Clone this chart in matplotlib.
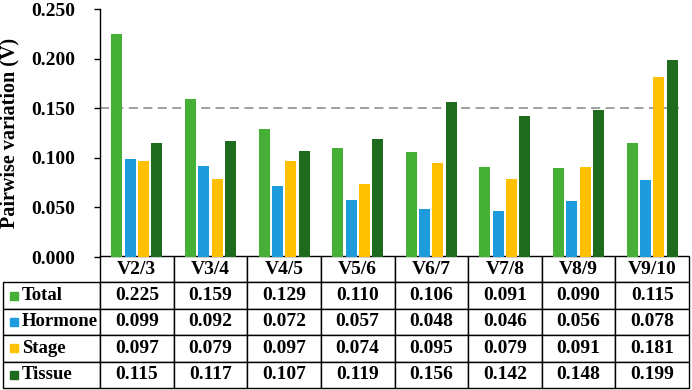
import matplotlib
matplotlib.use("Agg")
import matplotlib.pyplot as plt
import numpy as np

categories = ["V2/3", "V3/4", "V4/5", "V5/6", "V6/7", "V7/8", "V8/9", "V9/10"]
series_names = ["Total", "Hormone", "Stage", "Tissue"]
total = [0.225, 0.159, 0.129, 0.110, 0.106, 0.091, 0.090, 0.115]
hormone = [0.099, 0.092, 0.072, 0.057, 0.048, 0.046, 0.056, 0.078]
stage = [0.097, 0.079, 0.097, 0.074, 0.095, 0.079, 0.091, 0.181]
tissue = [0.115, 0.117, 0.107, 0.119, 0.156, 0.142, 0.148, 0.199]
threshold = 0.150
yticks = [0.000, 0.050, 0.100, 0.150, 0.200, 0.250]

colors = ["#45B035", "#1E9BDD", "#FFC000", "#1E6B1E"]
series = [total, hormone, stage, tissue]

plt.rcParams['font.family'] = ['Liberation Serif', 'DejaVu Serif']
plt.rcParams['font.weight'] = 'bold'

W, H = 692, 390
fig = plt.figure(figsize=(W / 100, H / 100), dpi=100)
ax_l, ax_r, ax_t, ax_b = 100, 689, 9, 257
ax = fig.add_axes([ax_l / W, (H - ax_b) / H, (ax_r - ax_l) / W, (ax_b - ax_t) / H])

x = np.arange(len(categories))
step = 0.181
bw = 0.15
for i, (vals, c) in enumerate(zip(series, colors)):
    ax.bar(x + (i - 1.5) * step, vals, width=bw, color=c, zorder=2)

ax.set_xlim(-0.5, len(categories) - 0.5)
ax.set_ylim(0, 0.25)
ax.hlines(threshold, -0.5, 7.37, colors="#999999", linestyles=(0, (5, 3)), linewidth=1.3, zorder=1)

fs = 14
ax.set_yticks(yticks)
ax.set_yticklabels([f"{v:.3f}" for v in yticks], fontsize=fs, fontweight='bold')
ax.tick_params(axis='y', direction='out', length=4, width=1, pad=14, colors='black')
ax.set_xticks([])
for s in ['top', 'right', 'bottom']:
    ax.spines[s].set_visible(False)
ax.spines['left'].set_linewidth(1)
ax.set_ylabel("Pairwise variation (V)", fontsize=14.5, fontweight='bold', labelpad=8)

# table
ax_w = ax_r - ax_l
ax_h = ax_b - ax_t
tbl_left, tbl_top, tbl_bottom = 3, 256, 388
cell_text = [[""] + categories]
for name, vals in zip(series_names, series):
    cell_text.append([name] + [f"{v:.3f}" for v in vals])
label_w = (ax_l - tbl_left) / (ax_r - tbl_left)
col_w = (1 - label_w) / len(categories)
bbox = [(tbl_left - ax_l) / ax_w, (ax_b - tbl_bottom) / ax_h,
        (ax_r - tbl_left) / ax_w, (tbl_bottom - tbl_top) / ax_h]
tbl = ax.table(cellText=cell_text, colWidths=[label_w] + [col_w] * len(categories),
               cellLoc='center', bbox=bbox)
tbl.auto_set_font_size(False)
for (r, c), cell in tbl.get_celld().items():
    cell.set_linewidth(1)
    cell.get_text().set_fontsize(fs)
    cell.get_text().set_fontweight('bold')
    if r == 0 and c == 0:
        cell.visible_edges = ''
    if c == 0 and r > 0:
        cell._loc = 'left'
        cell.PAD = 0.195
        cell.get_text().set_horizontalalignment('left')
        cell.get_text().set_fontsize(13.5)

# legend squares in row label cells
row_h = (tbl_bottom - tbl_top) / 5
for i, c in enumerate(colors):
    yc = tbl_top + row_h * (i + 1.5)
    ax.plot([(13.5 - ax_l) / ax_w], [(ax_b - yc) / ax_h], marker='s', markersize=5.2,
            color=c, transform=ax.transAxes, clip_on=False, linestyle='none')

fig.savefig("out.png", dpi=100)
